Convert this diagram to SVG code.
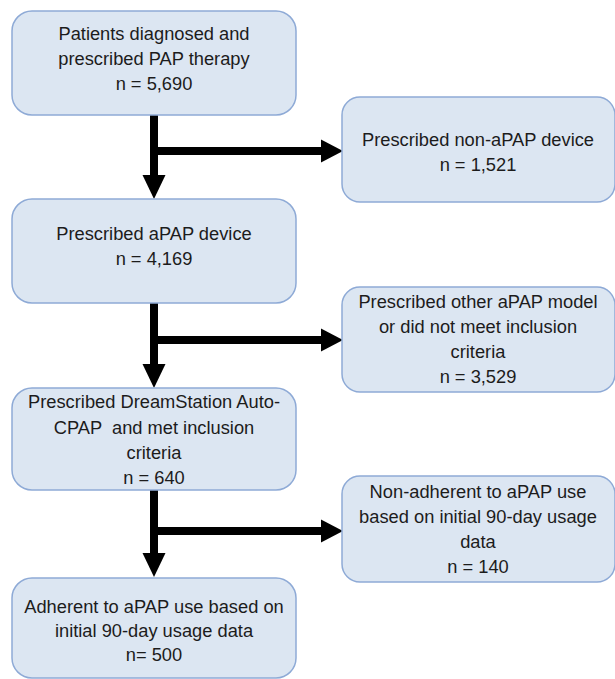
<svg xmlns="http://www.w3.org/2000/svg" width="615" height="679" viewBox="0 0 615 679">
<style>
.box{fill:#dce6f2;stroke:#8eaad6;stroke-width:1.5}
.t{font-family:"Liberation Sans",Arial,sans-serif;font-size:18.3px;fill:#1c1c1c;text-anchor:middle;white-space:pre}
.sh{stroke:#000;stroke-width:8;fill:none}
.hd{fill:#000}
</style>
<rect width="615" height="679" fill="#ffffff"/>
<g id="connectors">
<line class="sh" x1="154" y1="115" x2="154" y2="177"/>
<polygon class="hd" points="142.5,175 165.5,175 154,199"/>
<line class="sh" x1="154" y1="151" x2="323" y2="151"/>
<polygon class="hd" points="321,139.5 321,162.5 343,151"/>
<line class="sh" x1="154" y1="303" x2="154" y2="366"/>
<polygon class="hd" points="142.5,364 165.5,364 154,388"/>
<line class="sh" x1="154" y1="340" x2="323" y2="340"/>
<polygon class="hd" points="321,328.5 321,351.5 343,340"/>
<line class="sh" x1="154" y1="490" x2="154" y2="555"/>
<polygon class="hd" points="142.5,553 165.5,553 154,577"/>
<line class="sh" x1="154" y1="531" x2="323" y2="531"/>
<polygon class="hd" points="321,519.5 321,542.5 343,531"/>
</g>
<g id="n1">
<rect class="box" x="12" y="11" width="284" height="104" rx="20"/>
<text class="t" x="154" y="40">Patients diagnosed and</text>
<text class="t" x="154" y="65">prescribed PAP therapy</text>
<text class="t" x="154" y="90">n = 5,690</text>
</g>
<g id="r1">
<rect class="box" x="342" y="97" width="273" height="105" rx="18"/>
<text class="t" x="478" y="146">Prescribed non-aPAP device</text>
<text class="t" x="478" y="171">n = 1,521</text>
</g>
<g id="n2">
<rect class="box" x="12" y="199" width="284" height="104" rx="20"/>
<text class="t" x="154" y="240">Prescribed aPAP device</text>
<text class="t" x="154" y="265">n = 4,169</text>
</g>
<g id="r2">
<rect class="box" x="342" y="287" width="273" height="105" rx="18"/>
<text class="t" x="478" y="308">Prescribed other aPAP model</text>
<text class="t" x="478" y="333">or did not meet inclusion</text>
<text class="t" x="478" y="358">criteria</text>
<text class="t" x="478" y="383">n = 3,529</text>
</g>
<g id="n3">
<rect class="box" x="12" y="388" width="284" height="102" rx="20"/>
<text class="t" x="154" y="408">Prescribed DreamStation Auto-</text>
<text class="t" x="154" y="434" xml:space="preserve">CPAP  and met inclusion</text>
<text class="t" x="154" y="459">criteria</text>
<text class="t" x="154" y="484">n = 640</text>
</g>
<g id="r3">
<rect class="box" x="342" y="476" width="273" height="106" rx="18"/>
<text class="t" x="478" y="498">Non-adherent to aPAP use</text>
<text class="t" x="478" y="523">based on initial 90-day usage</text>
<text class="t" x="478" y="548">data</text>
<text class="t" x="478" y="573">n = 140</text>
</g>
<g id="n4">
<rect class="box" x="12" y="578" width="284" height="100" rx="20"/>
<text class="t" x="154" y="613">Adherent to aPAP use based on</text>
<text class="t" x="154" y="637">initial 90-day usage data</text>
<text class="t" x="154" y="661">n= 500</text>
</g>
</svg>
